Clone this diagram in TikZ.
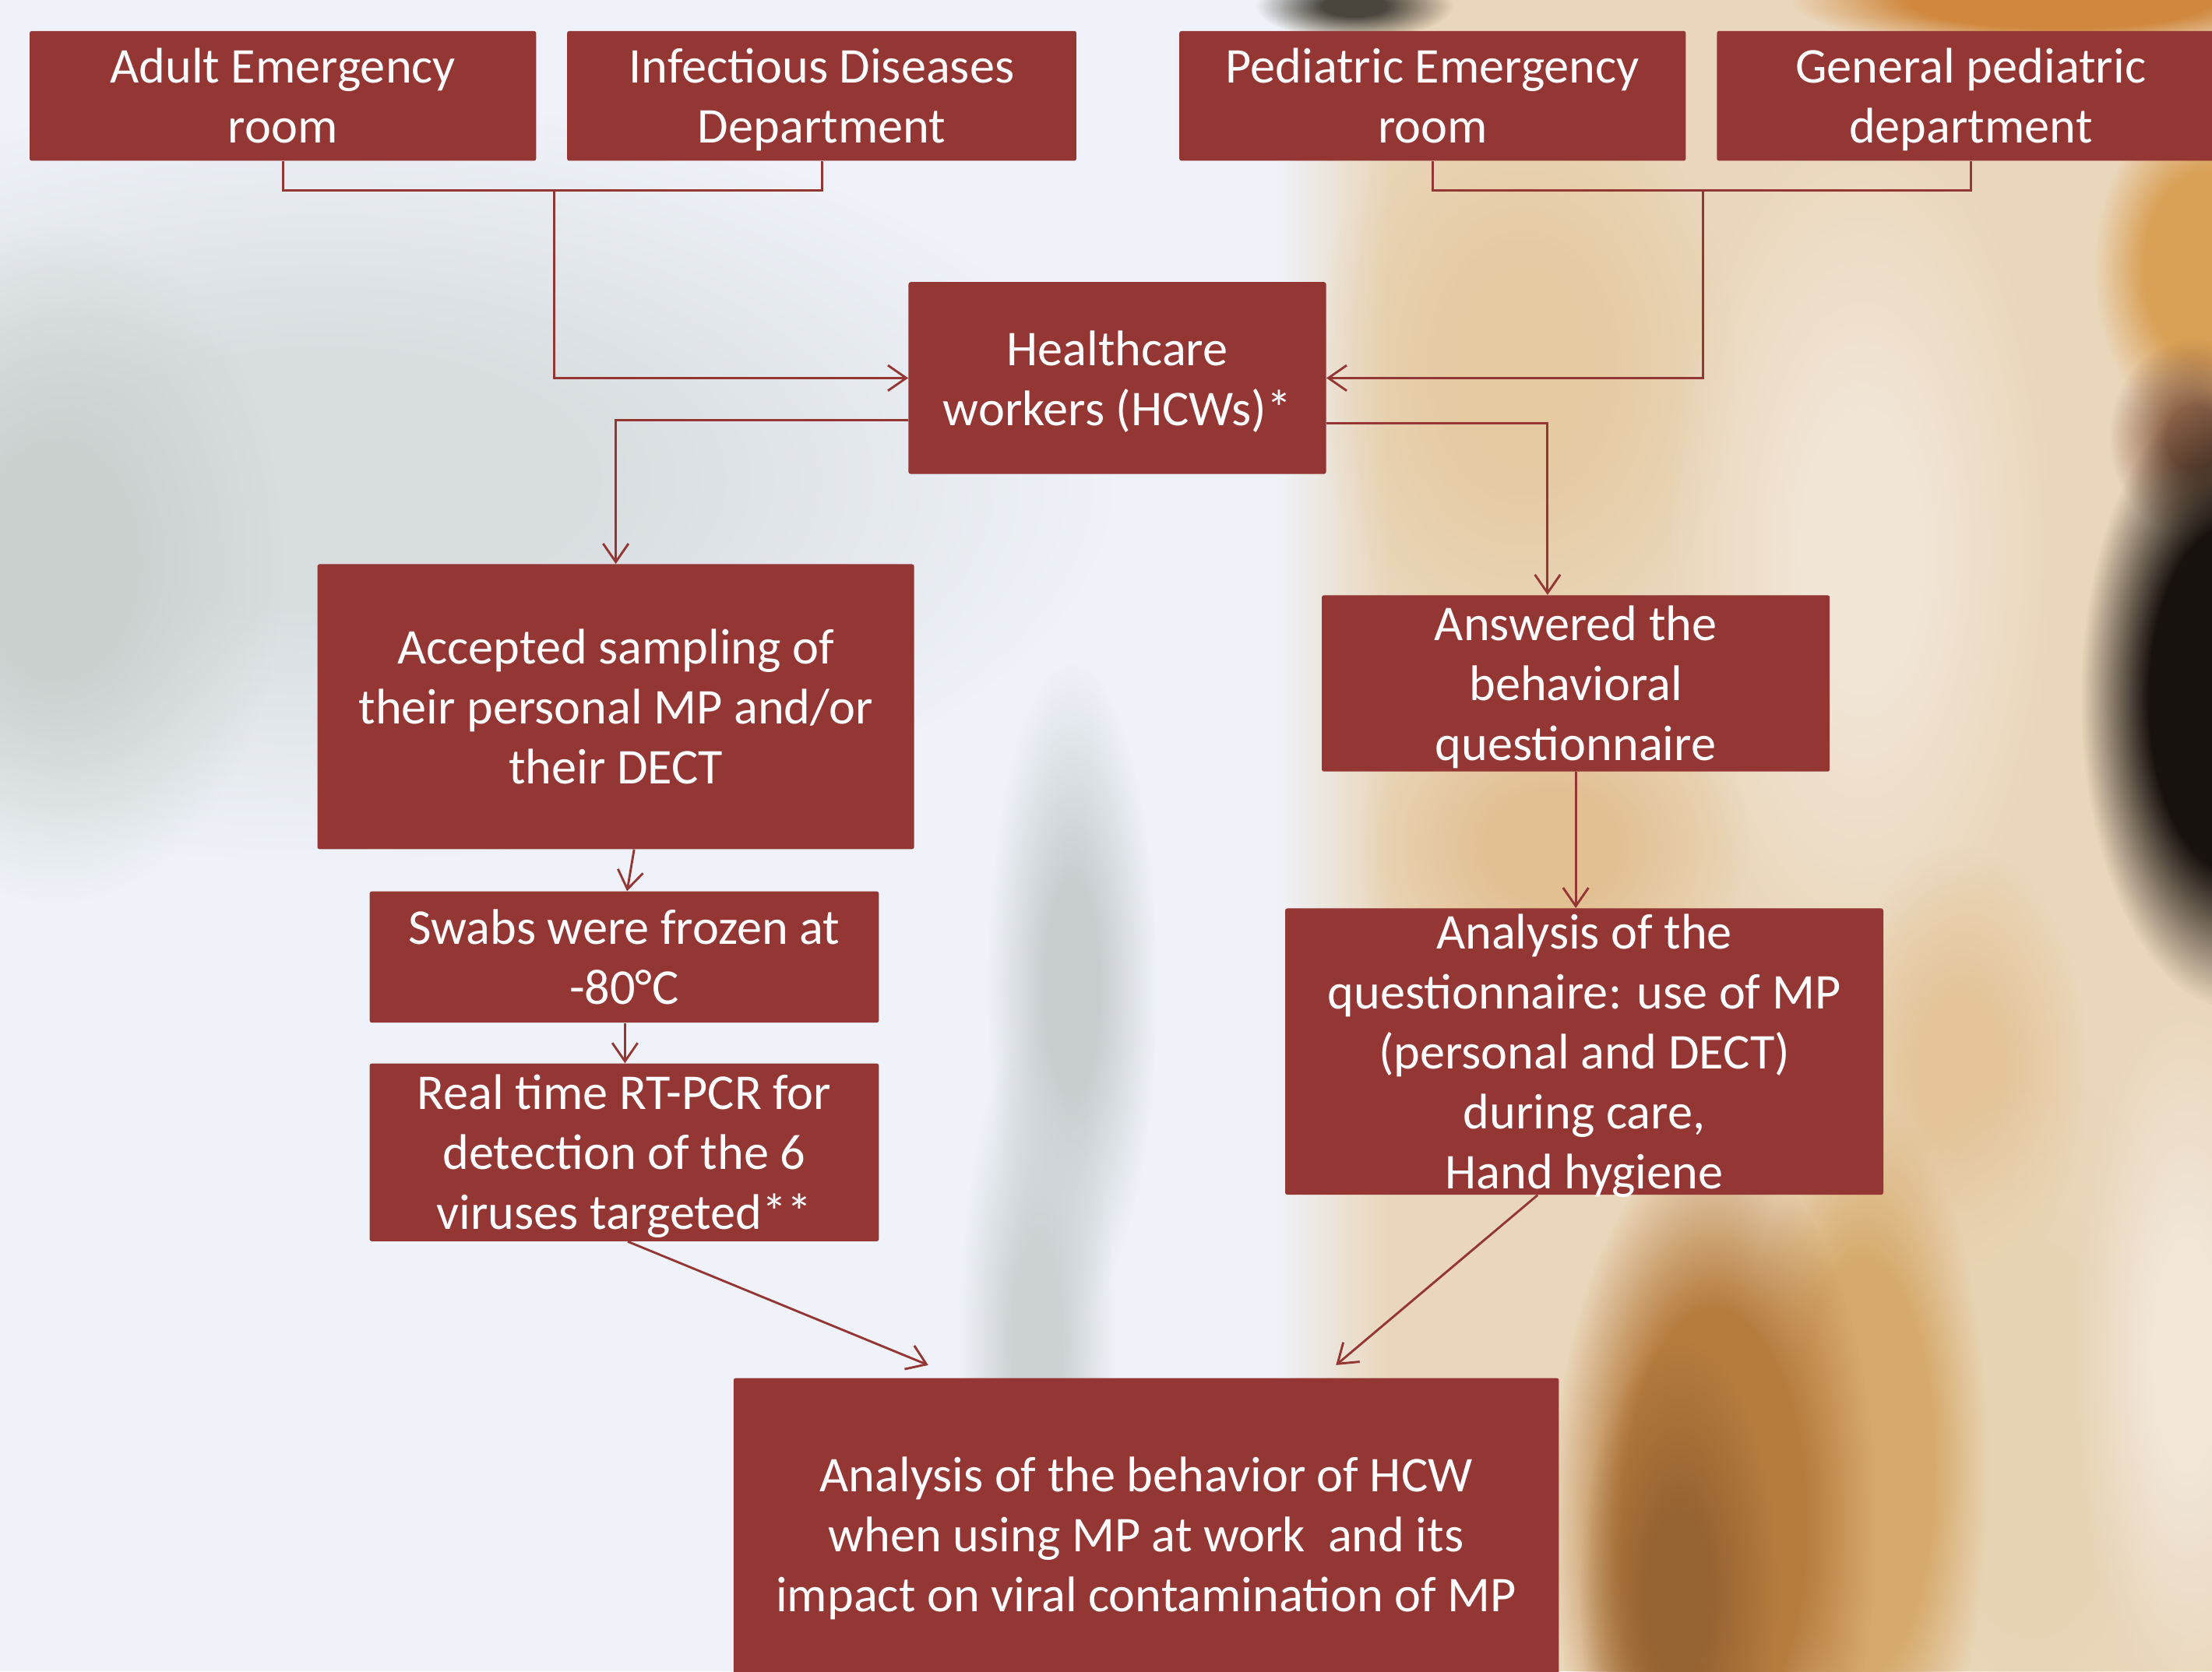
\documentclass[tikz,border=0pt]{standalone}
\usepackage{fontspec}
\setmainfont{Carlito}
\usetikzlibrary{arrows.meta,calc,fadings}
\definecolor{boxred}{HTML}{943634}
\definecolor{bgblue}{HTML}{EFF3F9}
\pgfdeclareradialshading{platshade}{\pgfpointorigin}{color(0bp)=(transparent!0); color(8bp)=(transparent!0); color(25bp)=(transparent!100); color(50bp)=(transparent!100)}
\pgfdeclarefading{plat}{\pgfuseshading{platshade}}
\pgfdeclareradialshading{broadshade}{\pgfpointorigin}{color(0bp)=(transparent!0); color(14bp)=(transparent!0); color(25bp)=(transparent!100); color(50bp)=(transparent!100)}
\pgfdeclarefading{broad}{\pgfuseshading{broadshade}}
\tikzfading[name=fadein, left color=transparent!100, right color=transparent!0]
\begin{document}
\begin{tikzpicture}[x=1pt,y=-1pt,
  box/.style={fill=boxred, text=white, align=center, inner sep=0pt, rounded corners=1.5pt,
    font=\fontsize{35.5}{42.5}\selectfont, text depth=9pt},
  two/.style={box, text height=76pt},
  three/.style={box, text height=118.5pt},
  five/.style={box, text height=203.5pt},
  conn/.style={draw=boxred, line width=1.6pt},
  arr/.style={conn, -{Straight Barb[length=13pt,width=18pt]}},
  blob/.style={path fading=plat},
  bblob/.style={path fading=broad}]
\useasboundingbox (0,0) rectangle (1568,1185);
\clip (0,0) rectangle (1568,1185);
% ---------- background (blurred photo approximation) ----------
\fill[bgblue] (0,0) rectangle (1568,1185);
\fill[blob, fill={rgb,255:red,216;green,221;blue,224}] (230,340) ellipse (560 and 270);
\fill[blob, fill={rgb,255:red,203;green,209;blue,207}] (40,400) ellipse (160 and 240);
\fill[blob, fill={rgb,255:red,200;green,205;blue,208}] (760,700) ellipse (60 and 230);
\fill[blob, fill={rgb,255:red,204;green,209;blue,212}] (735,950) ellipse (55 and 220);
\fill[path fading=fadein, fill={rgb,255:red,234;green,214;blue,186}] (905,0) rectangle (985,1185);
\fill[fill={rgb,255:red,234;green,214;blue,186}] (984,0) rectangle (1568,1185);
\fill[blob, fill={rgb,255:red,229;green,202;blue,162}] (1080,260) ellipse (150 and 210);
\fill[blob, fill={rgb,255:red,241;green,229;blue,213}] (1320,390) ellipse (140 and 320);
\fill[blob, fill={rgb,255:red,226;green,192;blue,146}] (1100,600) ellipse (140 and 120);
\fill[blob, fill={rgb,255:red,228;green,196;blue,152}] (1390,760) ellipse (90 and 160);
\fill[blob, fill={rgb,255:red,232;green,212;blue,180}] (1440,1020) ellipse (130 and 260);
\fill[blob, fill={rgb,255:red,241;green,230;blue,216}] (1550,960) ellipse (80 and 260);
\fill[bblob, fill={rgb,255:red,214;green,170;blue,108}] (1320,1040) ellipse (90 and 260);
\fill[bblob, fill={rgb,255:red,182;green,124;blue,62}] (1215,1080) ellipse (115 and 270);
\fill[blob, fill={rgb,255:red,150;green,100;blue,50}] (1190,1130) ellipse (70 and 180);
\fill[bblob, fill={rgb,255:red,208;green,136;blue,62}] (1460,0) ellipse (190 and 36);
\fill[bblob, fill={rgb,255:red,217;green,160;blue,86}] (1565,190) ellipse (80 and 120);
\fill[blob, fill={rgb,255:red,140;green,98;blue,72}] (1555,310) ellipse (60 and 70);
\fill[bblob, fill={rgb,255:red,24;green,18;blue,14}] (1585,495) ellipse (110 and 220);
\fill[blob, fill={rgb,255:red,74;green,70;blue,62}] (960,4) ellipse (70 and 24);
% ---------- boxes ----------
\node[two, minimum width=359pt, minimum height=92pt] (a1) at (200.5,68) {Adult Emergency\\room};
\node[two, minimum width=361pt, minimum height=92pt] (a2) at (582.5,68) {Infectious Diseases\\Department};
\node[two, minimum width=359pt, minimum height=92pt] (a3) at (1015.5,68) {Pediatric Emergency\\room};
\node[two, minimum width=360pt, minimum height=92pt] (a4) at (1397,68) {General pediatric\\department};
\node[two, minimum width=296pt, minimum height=136pt] (hcw) at (792,268) {Healthcare\\workers (HCWs)*};
\node[three, minimum width=423pt, minimum height=202pt] (acc) at (436.5,501) {Accepted sampling of\\their personal MP and/or\\their DECT};
\node[three, minimum width=360pt, minimum height=125pt, inner ysep=-1.5pt] (ans) at (1117,484.5) {Answered the\\behavioral\\questionnaire};
\node[two, minimum width=361pt, minimum height=93pt] (swab) at (442.5,678.5) {Swabs were frozen at\\-80°C};
\node[three, minimum width=361pt, minimum height=126pt, inner ysep=-1pt] (rt) at (442.5,817) {Real time RT-PCR for\\detection of the 6\\viruses targeted**};
\node[five, minimum width=424pt, minimum height=203pt, inner ysep=-5pt] (qa) at (1123,745.5) {Analysis of the\\questionnaire: use of MP\\(personal and DECT)\\during care,\\Hand hygiene};
\node[three, minimum width=585pt, minimum height=222pt] (fin) at (812.5,1088) {Analysis of the behavior of HCW\\when using MP at work \ and its\\impact on viral contamination of MP};
% ---------- connectors ----------
\coordinate (jl) at ($(a1.south)!0.503!(a2.south)+(0,21)$);
\coordinate (jr) at ($(a3.south)!0.503!(a4.south)+(0,21)$);
\draw[conn] (a1.south) -- ++(0,21) -| (a2.south);
\draw[conn] (a3.south) -- ++(0,21) -| (a4.south);
\draw[arr] (jl) |- (hcw.west);
\draw[arr] (jr) |- (hcw.east);
\draw[arr] ([yshift=-30pt]hcw.west) -| (acc.north);
\draw[arr] ([yshift=-32pt]hcw.east) -| ([xshift=-20pt]ans.north);
\draw[arr] ([xshift=13pt]acc.south) -- ([xshift=2pt]swab.north);
\draw[arr] ([xshift=0.5pt]swab.south) -- ([xshift=0.5pt]rt.north);
\draw[arr] (ans.south) -- (ans.south |- qa.north);
\draw[arr] ([xshift=2.5pt]rt.south) -- ([shift={(-154.5,-9)}]fin.north);
\draw[arr] ([xshift=-33pt]qa.south) -- ([shift={(134.5,-9)}]fin.north);
\end{tikzpicture}
\end{document}
